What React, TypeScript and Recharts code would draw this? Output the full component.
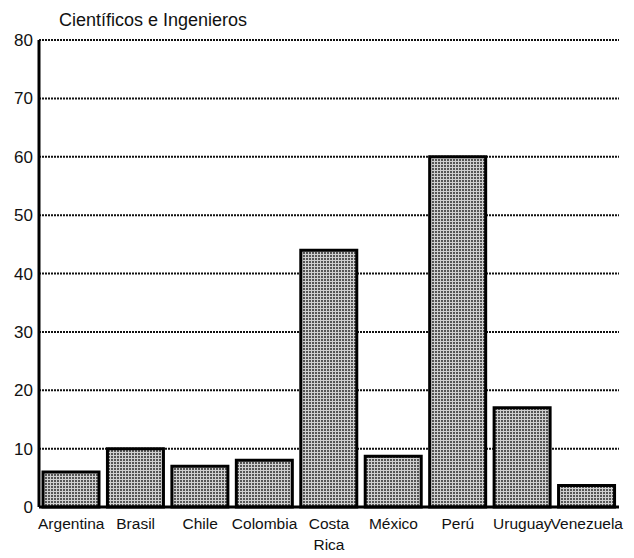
import { Bar, BarChart, CartesianGrid, XAxis, YAxis } from "recharts"

const countries = ["Argentina", "Brasil", "Chile", "Colombia", "Costa Rica", "México", "Perú", "Uruguay", "Venezuela"]
const scientists = [6, 10, 7, 8, 44, 8.7, 60, 17, 3.7]
const yTicks = [0, 10, 20, 30, 40, 50, 60, 70, 80]

const chartData = countries.map((country, i) => ({ country, value: scientists[i] }))

const font = "'Liberation Sans', Arial, sans-serif"

// country names with a space go on two lines (Costa / Rica)
function CountryTick(props: any) {
  const { x, y, payload } = props
  const lines = String(payload.value).split(" ")
  return (
    <text x={x} y={y} textAnchor="middle" fontSize={15.5} fontFamily={font} fill="#111">
      {lines.map((line, i) => (
        <tspan key={i} x={x} dy={i === 0 ? 22 : 21}>
          {line}
        </tspan>
      ))}
    </text>
  )
}

export default function App() {
  return (
    <div style={{ position: "relative", margin: -8, width: 634, height: 558, background: "#fff" }}>
      {/* stipple fill shared with the chart svg */}
      <svg width={0} height={0} style={{ position: "absolute" }}>
        <defs>
          <pattern id="stipple" width={3} height={3} patternUnits="userSpaceOnUse">
            <rect width={3} height={3} fill="#cfcfcf" />
            <rect width={2} height={2} fill="#555" />
          </pattern>
        </defs>
      </svg>
      <div
        style={{
          position: "absolute",
          left: 59,
          top: 10,
          fontFamily: font,
          fontSize: 18,
          color: "#111",
          whiteSpace: "nowrap",
        }}
      >
        Científicos e Ingenieros
      </div>
      <BarChart width={634} height={558} data={chartData} margin={{ top: 40, right: 15, bottom: 0, left: 0 }}>
        <CartesianGrid vertical={false} stroke="#111" strokeWidth={2} strokeDasharray="2 1" />
        <XAxis
          dataKey="country"
          height={51}
          axisLine={{ stroke: "#000", strokeWidth: 3 }}
          tickLine={false}
          tickSize={0}
          tickMargin={0}
          interval={0}
          tick={<CountryTick />}
        />
        <XAxis
          xAxisId="top"
          orientation="top"
          dataKey="country"
          height={0}
          axisLine={{ stroke: "#000", strokeWidth: 3 }}
          tick={false}
          tickLine={false}
        />
        <YAxis
          width={39}
          domain={[0, 80]}
          ticks={yTicks}
          interval={0}
          axisLine={{ stroke: "#000", strokeWidth: 3 }}
          tickLine={false}
          tickSize={4}
          tickMargin={2}
          tick={{ fontSize: 17, fontFamily: font, fill: "#111" }}
        />
        <YAxis
          yAxisId="right"
          orientation="right"
          width={0}
          domain={[0, 80]}
          axisLine={{ stroke: "#000", strokeWidth: 2 }}
          tick={false}
          tickLine={false}
        />
        <Bar dataKey="value" barSize={56} fill="url(#stipple)" stroke="#000" strokeWidth={3} isAnimationActive={false} />
      </BarChart>
    </div>
  )
}
